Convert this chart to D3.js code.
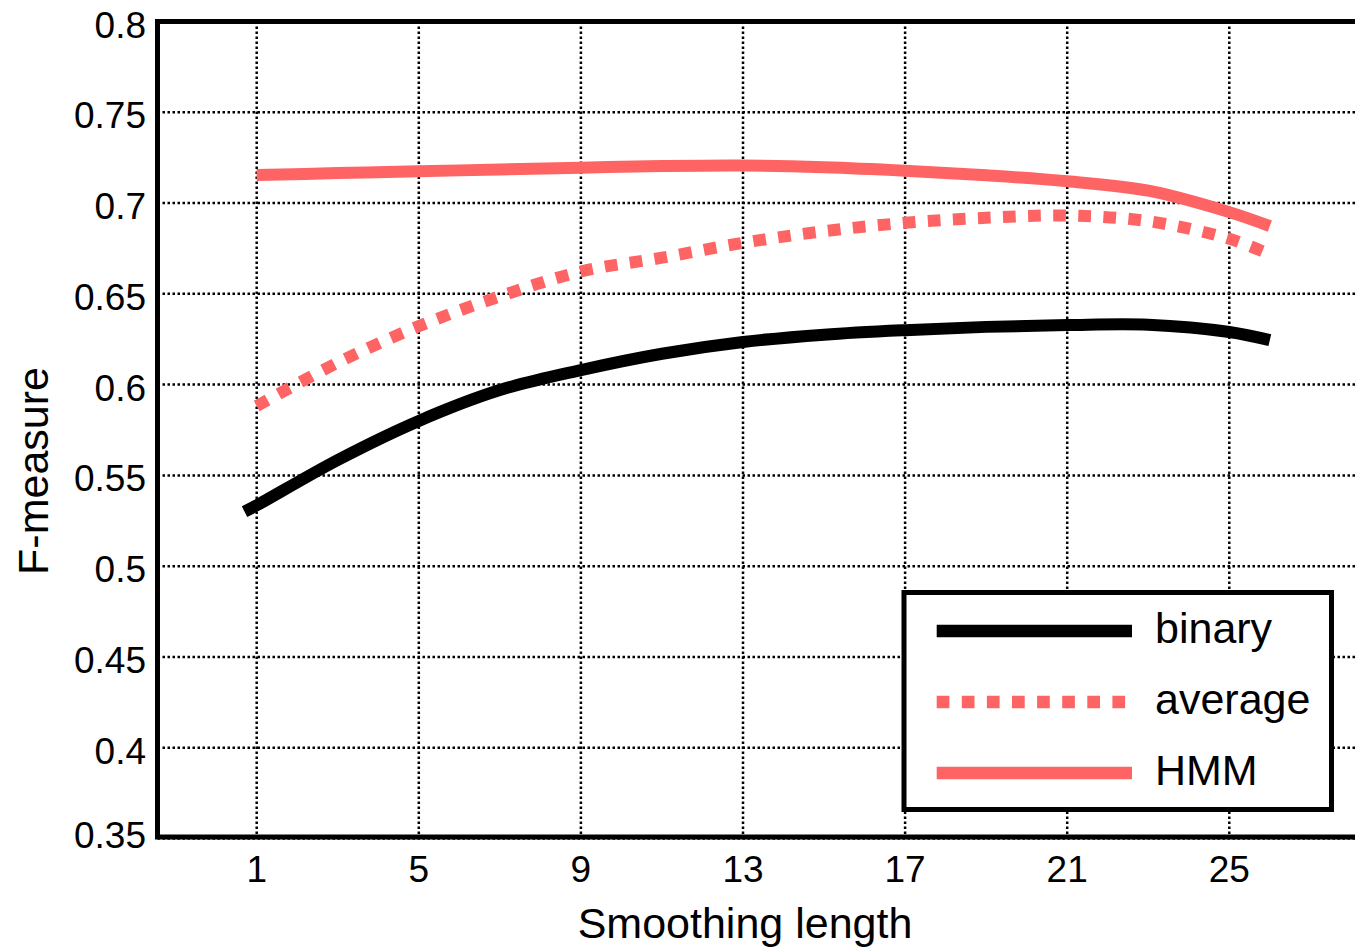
<!DOCTYPE html>
<html>
<head>
<meta charset="utf-8">
<script src="https://cdn.jsdelivr.net/npm/d3@7"></script>
<style>
  body { margin: 0; background: #fff; }
  text { font-family: "Liberation Sans", Arial, sans-serif; fill: #000; }
</style>
</head>
<body>
<svg id="SvgChart"></svg>
<script>
// ------ Data
var smoothX = [1, 3, 5, 7, 9, 11, 13, 15, 17, 19, 21, 23, 25, 26];
var binaryX = [0.7, 1, 3, 5, 7, 9, 11, 13, 15, 17, 19, 21, 23, 25, 26];
var binaryVals = [0.5300, 0.5335, 0.5585, 0.5800, 0.5970, 0.6080, 0.6170, 0.6235, 0.6275, 0.6300, 0.6318, 0.6328, 0.6330, 0.6290, 0.6245];
var averageVals = [0.5882, 0.6121, 0.6322, 0.6486, 0.6623, 0.6699, 0.6781, 0.6845, 0.6891, 0.6919, 0.6931, 0.6900, 0.6803, 0.6717];
var hmmVals = [0.7154, 0.7165, 0.7175, 0.7185, 0.7195, 0.7204, 0.7207, 0.7197, 0.7178, 0.7153, 0.7120, 0.7068, 0.6950, 0.6873];
var xTicks = [1, 5, 9, 13, 17, 21, 25];
var yTicks = [0.35, 0.4, 0.45, 0.5, 0.55, 0.6, 0.65, 0.7, 0.75, 0.8];
var seriesNames = ["binary", "average", "HMM"];

// ------ Sizes
var width = 1355, height = 949;
var frame = {left: 157.5, top: 21.5, right: 1410, bottom: 837};
var red = "#ff6464";

var svg = d3.select("#SvgChart")
	.attr("width", width)
	.attr("height", height);

// ------ Scales
var xScale = d3.scaleLinear().domain([1, 25]).range([256.7, 1229.3]);
var yScale = d3.scaleLinear().domain([0.35, 0.8]).range([838.5, 21.5]);

// ------ Grid (dotted)
var grid = svg.append("g")
	.attr("stroke", "#000")
	.attr("stroke-width", 2.5)
	.attr("stroke-dasharray", "2.5,2.5");

grid.selectAll(".vgrid").data(xTicks).enter().append("line")
	.attr("class", "vgrid")
	.attr("x1", d => xScale(d)).attr("x2", d => xScale(d))
	.attr("y1", frame.top).attr("y2", frame.bottom);

grid.selectAll(".hgrid").data(yTicks).enter().append("line")
	.attr("class", "hgrid")
	.attr("x1", frame.left).attr("x2", frame.right)
	.attr("y1", d => yScale(d)).attr("y2", d => yScale(d));

// ------ Curves
var line = d3.line()
	.x(d => xScale(d[0]))
	.y(d => yScale(d[1]))
	.curve(d3.curveCatmullRom.alpha(0.5));

var series = [
	{name: "binary", pts: d3.zip(binaryX, binaryVals), color: "#000", dash: null},
	{name: "average", pts: d3.zip(smoothX, averageVals), color: red, dash: "12.7,12.4"},
	{name: "HMM", pts: d3.zip(smoothX, hmmVals), color: red, dash: null}
];

svg.selectAll(".curve").data(series).enter().append("path")
	.attr("class", "curve")
	.attr("d", d => line(d.pts))
	.attr("fill", "none")
	.attr("stroke", d => d.color)
	.attr("stroke-width", 12)
	.attr("stroke-dasharray", d => d.dash);

// ------ Frame (right side runs off the picture)
svg.append("path")
	.attr("d", "M" + frame.right + "," + frame.top + "H" + frame.left + "V" + frame.bottom + "H" + frame.right)
	.attr("fill", "none")
	.attr("stroke", "#000")
	.attr("stroke-width", 5);

// ------ Tick labels
svg.selectAll(".ytick").data(yTicks).enter().append("text")
	.attr("class", "ytick")
	.attr("x", 146)
	.attr("y", d => yScale(d) + (d === 0.35 ? 9 : 16))
	.attr("text-anchor", "end")
	.style("font-size", "37px")
	.text(d => d3.format("")(d));

svg.selectAll(".xtick").data(xTicks).enter().append("text")
	.attr("class", "xtick")
	.attr("x", d => xScale(d))
	.attr("y", 882)
	.attr("text-anchor", "middle")
	.style("font-size", "37px")
	.text(d => d);

// ------ Axis labels
svg.append("text")
	.attr("x", 745)
	.attr("y", 938)
	.attr("text-anchor", "middle")
	.style("font-size", "43px")
	.text("Smoothing length");

svg.append("text")
	.attr("transform", "translate(48,471) rotate(-90)")
	.attr("text-anchor", "middle")
	.style("font-size", "43px")
	.text("F-measure");

// ------ Legend
var legend = svg.append("g");
legend.append("rect")
	.attr("x", 904).attr("y", 592.5)
	.attr("width", 427.5).attr("height", 217)
	.attr("fill", "#fff")
	.attr("stroke", "#000")
	.attr("stroke-width", 5);

var legendY = [631, 702, 773];
var rows = legend.selectAll(".leg").data(series).enter().append("g")
	.attr("class", "leg")
	.attr("transform", (d, i) => "translate(0," + legendY[i] + ")");

rows.append("line")
	.attr("x1", 936.7).attr("x2", 1132)
	.attr("y1", 0).attr("y2", 0)
	.attr("stroke", d => d.color)
	.attr("stroke-width", 12.3)
	.attr("stroke-dasharray", d => d.dash);

rows.append("text")
	.attr("x", 1155)
	.attr("y", 11.5)
	.style("font-size", "43px")
	.text((d, i) => seriesNames[i]);
</script>
</body>
</html>
